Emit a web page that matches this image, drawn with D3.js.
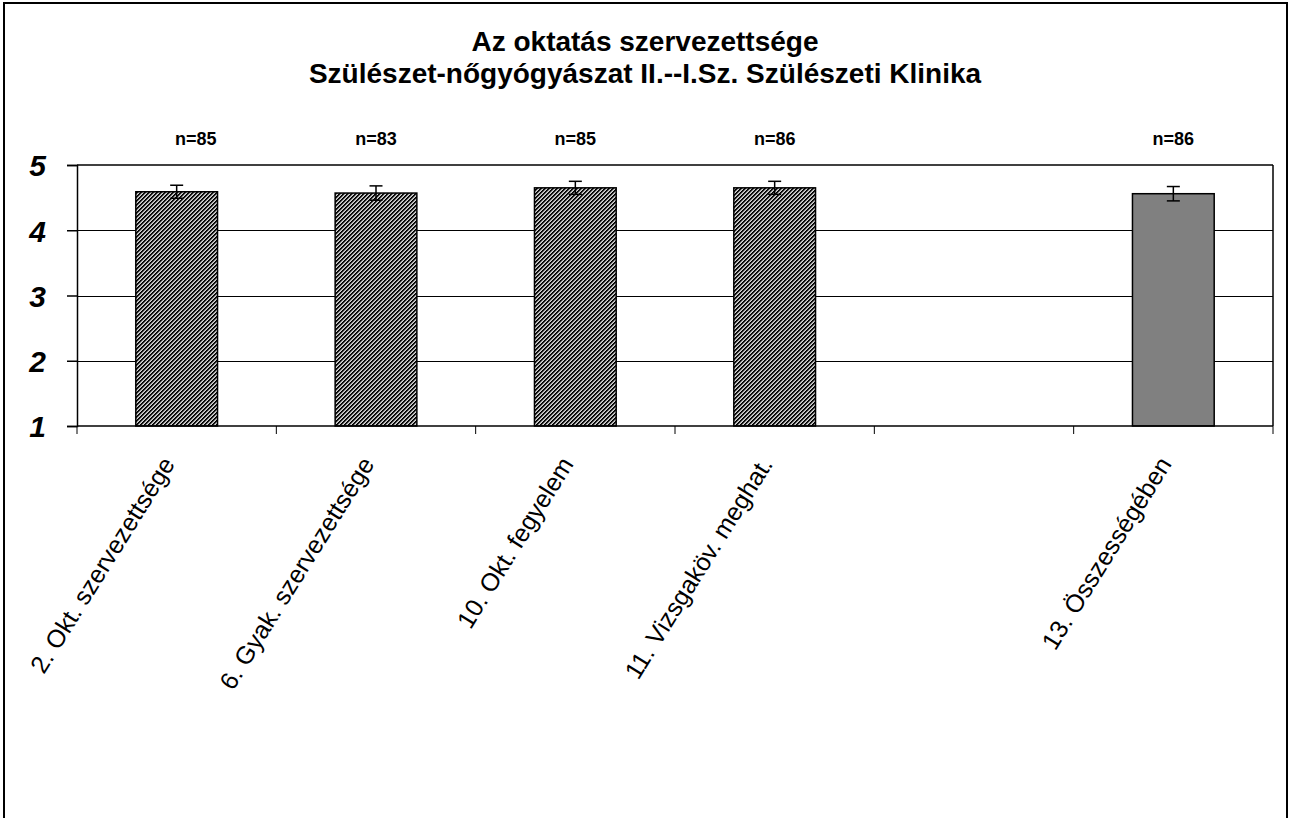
<!DOCTYPE html>
<html>
<head>
<meta charset="utf-8">
<script src="https://cdn.jsdelivr.net/npm/d3@7"></script>
<style>
  html, body { margin: 0; padding: 0; background: #fff; }
  svg { display: block; }
  text { font-family: "Liberation Sans", Arial, sans-serif; fill: #000; }
</style>
</head>
<body>
<svg id="chart" width="1290" height="818"></svg>
<script>
// ---- data ----
const titleLines = ["Az oktatás szervezettsége", "Szülészet-nőgyógyászat II.--I.Sz. Szülészeti Klinika"];
const categories = ["2. Okt. szervezettsége", "6. Gyak. szervezettsége", "10. Okt. fegyelem", "11. Vizsgaköv. meghat.", "", "13. Összességében"];
const means      = [4.59, 4.57, 4.65, 4.65, null, 4.56];
const errors     = [0.10, 0.11, 0.10, 0.10, null, 0.11];
const counts     = [85, 83, 85, 86, null, 86];
const isTotal    = [false, false, false, false, false, true];
const yTicks     = [1, 2, 3, 4, 5];

// ---- layout ----
const svg = d3.select("#chart");
const plot = { left: 77, right: 1273, top: 165, bottom: 426 };

const slots = categories.map((c, i) => i);
const x = d3.scaleBand().domain(slots).range([plot.left, plot.right]).padding(0);
const y = d3.scaleLinear().domain([1, 5]).range([plot.bottom, plot.top]);
const barW = x.bandwidth() * 0.41;

// pattern
const defs = svg.append("defs");
const pat = defs.append("pattern").attr("id", "hatch").attr("width", 4).attr("height", 4)
  .attr("patternUnits", "userSpaceOnUse");
const shades = ["#000", "#1a1a1a", "#a0a0a0", "#d4d4d4"];
for (let py = 0; py < 4; py++) for (let px = 0; px < 4; px++) {
  pat.append("rect").attr("x", px).attr("y", py).attr("width", 1).attr("height", 1)
    .attr("fill", shades[(px + py) % 4]).attr("shape-rendering", "crispEdges");
}

// outer border
svg.append("rect").attr("x", 4).attr("y", 3).attr("width", 1283).attr("height", 830)
  .attr("fill", "none").attr("stroke", "#000").attr("stroke-width", 2);

// title
svg.append("g").selectAll("text").data(titleLines).join("text")
  .attr("x", 645).attr("y", (d, i) => 51 + i * 32)
  .attr("text-anchor", "middle").attr("font-weight", "bold").attr("font-size", 28)
  .text(d => d);

// gridlines
svg.append("g").selectAll("line").data(yTicks.filter(t => t > 1 && t < 5)).join("line")
  .attr("x1", plot.left).attr("x2", plot.right)
  .attr("y1", d => Math.round(y(d)) + 0.5).attr("y2", d => Math.round(y(d)) + 0.5)
  .attr("stroke", "#000").attr("stroke-width", 1);

// plot frame top & right
svg.append("line").attr("x1", plot.left).attr("x2", plot.right).attr("y1", plot.top).attr("y2", plot.top)
  .attr("stroke", "#000").attr("stroke-width", 1.5);
svg.append("line").attr("x1", plot.right).attr("x2", plot.right).attr("y1", plot.top).attr("y2", plot.bottom)
  .attr("stroke", "#000").attr("stroke-width", 1.5);

// bars
const data = categories.map((c, i) => ({ i, c, m: means[i], e: errors[i], n: counts[i], total: isTotal[i] }))
  .filter(d => d.m != null);

svg.append("g").selectAll("rect").data(data).join("rect")
  .attr("x", d => x(d.i) + (x.bandwidth() - barW) / 2)
  .attr("width", barW)
  .attr("y", d => y(d.m))
  .attr("height", d => y(1) - y(d.m))
  .attr("fill", d => d.total ? "#808080" : "url(#hatch)")
  .attr("stroke", "#000").attr("stroke-width", 1.5);

// error bars
const eb = svg.append("g").attr("stroke", "#000").attr("stroke-width", 1.5);
data.forEach(d => {
  const cx = x(d.i) + x.bandwidth() / 2;
  eb.append("line").attr("x1", cx).attr("x2", cx).attr("y1", y(d.m + d.e)).attr("y2", y(d.m - d.e));
  [d.m + d.e, d.m - d.e].forEach(v => {
    eb.append("line").attr("x1", cx - 6.5).attr("x2", cx + 6.5).attr("y1", y(v)).attr("y2", y(v));
  });
});

// n labels
svg.append("g").selectAll("text").data(data).join("text")
  .attr("x", d => x(d.i) + x.bandwidth() / 2 + (d.i === 0 ? 19 : 0))
  .attr("y", 145)
  .attr("text-anchor", "middle").attr("font-weight", "bold").attr("font-size", 18)
  .text(d => "n=" + d.n);

// y axis
const yAxis = d3.axisLeft(y).tickValues(yTicks).tickSize(10).tickPadding(20).tickFormat(d3.format("d"));
const gy = svg.append("g").attr("transform", `translate(${plot.left},0)`).call(yAxis);
gy.select(".domain").attr("stroke", "#000").attr("stroke-width", 1.5);
gy.selectAll(".tick line").attr("stroke", "#000").attr("stroke-width", 1.5);
gy.selectAll(".tick text").attr("font-size", 30).attr("font-weight", "bold").attr("font-style", "italic")
  .attr("font-family", "'Liberation Sans', Arial, sans-serif").attr("fill", "#000")
  .attr("x", -31).attr("dy", "0.36em");

// x axis (slot boundary ticks)
const bounds = slots.map(s => x(s)).concat([plot.right]);
svg.append("line").attr("x1", plot.left).attr("x2", plot.right).attr("y1", plot.bottom).attr("y2", plot.bottom)
  .attr("stroke", "#000").attr("stroke-width", 1.5);
svg.append("g").selectAll("line").data(bounds).join("line")
  .attr("x1", d => d).attr("x2", d => d).attr("y1", plot.bottom).attr("y2", plot.bottom + 8)
  .attr("stroke", "#000").attr("stroke-width", 1);

// x labels
svg.append("g").selectAll("text").data(categories.map((c, i) => ({ c, i })).filter(d => d.c)).join("text")
  .attr("transform", d => `translate(${x(d.i) + x.bandwidth() / 2 - 1},464) rotate(-58)`)
  .attr("text-anchor", "end").attr("font-size", 25)
  .text(d => d.c);
</script>
</body>
</html>
